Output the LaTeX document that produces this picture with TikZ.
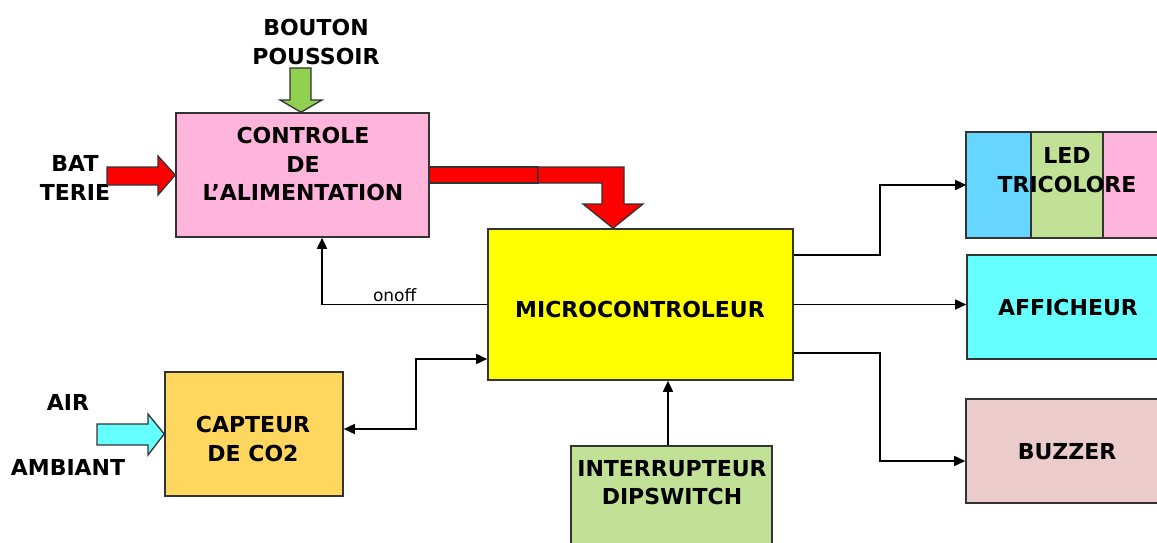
\documentclass[tikz,border=0pt]{standalone}
\usepackage{fontspec}
\setmainfont{DejaVu Sans}
\usetikzlibrary{arrows.meta}
\definecolor{cpink}{HTML}{FFB5DB}
\definecolor{cyel}{HTML}{FFFF00}
\definecolor{corange}{HTML}{FFD75F}
\definecolor{cgreen}{HTML}{C0E196}
\definecolor{ccyan}{HTML}{66FFFF}
\definecolor{cbuzz}{HTML}{EBCBCB}
\definecolor{cblue}{HTML}{66D5FF}
\definecolor{carrowgreen}{HTML}{92D050}
\definecolor{cred}{HTML}{FF0000}
\definecolor{cborder}{HTML}{333333}
\tikzset{
  box/.style={draw=cborder, line width=1.6pt, inner sep=0pt},
  lbl/.style={font=\fontsize{22}{28.5}\selectfont\bfseries, align=center, inner sep=0pt},
  conn/.style={line width=1.6pt, -{Triangle[length=11pt,width=10pt]}},
  block/.style={draw=cborder, line width=1.3pt, line join=miter},
}
\begin{document}
\begin{tikzpicture}[x=1pt,y=-1pt]
\useasboundingbox (0,0) rectangle (1157,543);
\clip (0,0) rectangle (1157,543);
% boxes
\node[box, fill=cpink, minimum width=253pt, minimum height=124pt] (ctrl) at (302.5,175) {};
\node[box, fill=cyel, minimum width=305pt, minimum height=151pt] (micro) at (640.5,304.5) {};
\node[box, fill=corange, minimum width=178pt, minimum height=124pt] (capt) at (254,434) {};
\node[box, fill=cgreen, minimum width=201pt, minimum height=124pt] (inter) at (671.5,508) {};
\node[box, fill=ccyan, minimum width=205pt, minimum height=104pt] (aff) at (1069.5,307) {};
\node[box, fill=cbuzz, minimum width=206pt, minimum height=104pt] (buz) at (1069,451) {};
% LED tricolore
\node[box, minimum width=205pt, minimum height=104pt] (led) at (1069.5,185) {};
\fill[cblue] (967,133) rectangle (1031,237);
\fill[cgreen] (1031,133) rectangle (1103,237);
\fill[cpink] (1103,133) rectangle (1172,237);
\draw[cborder, line width=1.2pt] (1031,133) -- (1031,237) (1103,133) -- (1103,237);
\draw[cborder, line width=1.6pt] (led.south west) rectangle (led.north east);
% texts
\node[lbl] (tctrl) at (303,164) {CONTROLE\\DE\\L’ALIMENTATION};
\node[lbl] (tmicro) at (640,309) {MICROCONTROLEUR};
\node[lbl] (tcapt) at (253,439) {CAPTEUR\\DE CO2};
\node[lbl] (tinter) at (672,482.5) {INTERRUPTEUR\\DIPSWITCH};
\node[lbl] (tled) at (1067,170) {LED\\TRICOLORE};
\node[lbl] (taff) at (1068,307) {AFFICHEUR};
\node[lbl] (tbuz) at (1067,452) {BUZZER};
\node[lbl] (tbouton) at (316,42) {BOUTON\\POUSSOIR};
\node[lbl] (tbat) at (75,178) {BAT\\TERIE};
\node[lbl] (tair) at (68,402) {AIR};
\node[lbl] (tamb) at (68,467) {AMBIANT};
% block arrows
\draw[block, fill=carrowgreen] (290,68) -- (311,68) -- (311,100) -- (322,100) -- (ctrl.north -| 301,0) -- (280,100) -- (290,100) -- cycle;
\draw[block, fill=cred] (107,167) -- (158,167) -- (158,156) -- (ctrl.west) -- (158,195) -- (158,185) -- (107,185) -- cycle;
\draw[block, fill=ccyan] (97,424) -- (148,424) -- (148,414) -- (capt.west) -- (148,455) -- (148,445) -- (97,445) -- cycle;
\draw[block, fill=cred] (ctrl.east |- 0,167) rectangle (538,183);
\draw[block, fill=cred] (538,167) -- (624,167) -- (624,204) -- (643,204) -- (micro.north -| 613,0) -- (583,204) -- (602,204) -- (602,183) -- (538,183) -- cycle;
% connectors
\draw[conn] (micro.west) -| ([xshift=19.5pt]ctrl.south) node[pos=0.28, above, font=\fontsize{17}{19}\selectfont, inner sep=2pt] (tonoff) {onoff};
\draw[line width=1.6pt, {Triangle[length=11pt,width=10pt]}-{Triangle[length=11pt,width=10pt]}] ([yshift=5pt]capt.east) -- ++(72,0) |- ([yshift=-54.5pt]micro.west);
\draw[conn] (inter.north -| 668,0) -- (micro.south -| 668,0);
\draw[conn] ([yshift=49.5pt]micro.east) -- ++(86,0) |- (led.west);
\draw[conn] (micro.east) -- (micro.east -| aff.west);
\draw[conn] ([yshift=-48.5pt]micro.east) -- ++(86,0) |- ([yshift=-10pt]buz.west);
\end{tikzpicture}
\end{document}
